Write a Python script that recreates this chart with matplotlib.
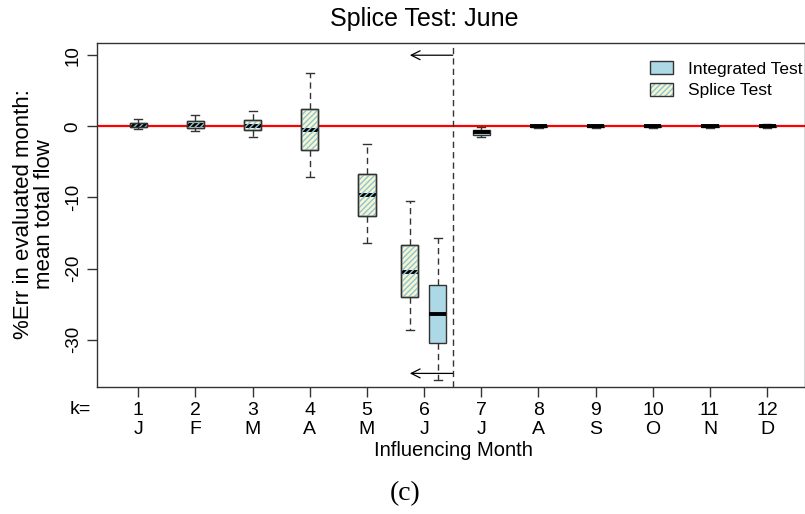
"""Splice test box plot for June, redrawn from the paper figure."""

import matplotlib

matplotlib.use("Agg")
import matplotlib.pyplot as plt
from matplotlib.legend_handler import HandlerTuple
from matplotlib.patches import Patch, PathPatch

plt.rcParams["font.family"] = ["Liberation Sans", "DejaVu Sans"]

# k = influencing month index
months = ["J", "F", "M", "A", "M", "J", "J", "A", "S", "O", "N", "D"]
k_values = list(range(1, 13))

# splice test, k = 1..6 (whisker low, q1, median, q3, whisker high)
splice_k = [1, 2, 3, 4, 5, 6]
splice_lo = [-0.38, -0.62, -1.5, -7.1, -16.4, -28.6]
splice_q1 = [-0.14, -0.24, -0.52, -3.33, -12.6, -24.0]
splice_med = [0.18, 0.22, 0.08, -0.56, -9.7, -20.5]
splice_q3 = [0.5, 0.75, 0.89, 2.48, -6.75, -16.65]
splice_hi = [0.98, 1.63, 2.19, 7.54, -2.49, -10.5]

# integrated test, k = 6..12
integ_k = [6, 7, 8, 9, 10, 11, 12]
integ_lo = [-35.7, -1.46, -0.2, -0.2, -0.2, -0.2, -0.2]
integ_q1 = [-30.5, -1.18, -0.15, -0.15, -0.15, -0.15, -0.1]
integ_med = [-26.4, -0.85, 0.0, 0.0, 0.0, 0.0, 0.05]
integ_q3 = [-22.3, -0.52, 0.15, 0.15, 0.15, 0.15, 0.2]
integ_hi = [-15.75, -0.05, 0.2, 0.2, 0.2, 0.2, 0.35]

split_month = 6.5
arrow_y = [10, -34.75]

SPLICE_FILL = "#f6f6cf"
HATCH_COLOR = "#8fc3d6"
INTEG_FILL = "#add8e6"
EDGE = "#333333"


def make_stats(lo, q1, med, q3, hi):
    return [
        {"whislo": a, "q1": b, "med": c, "q3": d, "whishi": e, "fliers": []}
        for a, b, c, d, e in zip(lo, q1, med, q3, hi)
    ]


def draw_boxes(ax, stats, positions, face):
    return ax.bxp(
        stats,
        positions=positions,
        widths=0.3,
        patch_artist=True,
        showfliers=False,
        manage_ticks=False,
        boxprops=dict(facecolor=face, edgecolor=EDGE, linewidth=1.0),
        whiskerprops=dict(color=EDGE, linewidth=1.0, linestyle=(0, (4.5, 3))),
        capprops=dict(color=EDGE, linewidth=1.0),
        capwidths=0.14,
        medianprops=dict(color="black", linewidth=2.8, solid_capstyle="butt"),
    )


fig = plt.figure(figsize=(8.05, 5.14), dpi=100)
ax = fig.add_axes([97 / 805, 1 - 386.7 / 514, 1 - 97 / 805, (386.7 - 42.7) / 514])

ax.axhline(0, color="red", linewidth=1.6, zorder=1)

# month 6 has both tests side by side
splice_pos = [k - 0.25 if k == 6 else k for k in splice_k]
integ_pos = [k + 0.24 if k == 6 else k for k in integ_k]

splice = draw_boxes(ax, make_stats(splice_lo, splice_q1, splice_med, splice_q3, splice_hi),
                    splice_pos, SPLICE_FILL)
draw_boxes(ax, make_stats(integ_lo, integ_q1, integ_med, integ_q3, integ_hi),
           integ_pos, INTEG_FILL)

# hatch over the splice boxes (also breaks up the median line)
plt.rcParams["hatch.linewidth"] = 1.0
for box in splice["boxes"]:
    ax.add_patch(PathPatch(box.get_path(), facecolor="none", edgecolor=HATCH_COLOR,
                           linewidth=0, hatch="//////", zorder=box.get_zorder() + 2))
    ax.add_patch(PathPatch(box.get_path(), facecolor="none", edgecolor=EDGE,
                           linewidth=1.0, zorder=box.get_zorder() + 3))

ax.axvline(split_month, color=EDGE, linewidth=1.0, linestyle=(0, (4.5, 3)))
for y in arrow_y:
    ax.annotate("", xy=(5.75, y), xytext=(split_month, y),
                arrowprops=dict(arrowstyle="->", color="black", linewidth=0.9,
                                mutation_scale=16, shrinkA=0, shrinkB=0))

ax.set_xlim(0.28, 12.66)
ax.set_ylim(-36.62, 11.76)
ax.set_xticks(k_values)
ax.set_xticklabels([f"{k}\n{m}" for k, m in zip(k_values, months)],
                   fontsize=14, linespacing=1.15)
ax.set_yticks([10, 0, -10, -20, -30])
ax.set_yticklabels(["10", "0", "-10", "-20", "-30"], rotation=90, va="center",
                   fontsize=13.5)
ax.tick_params(direction="out", length=7, width=1, color=EDGE, pad=4)
for side in ["left", "top", "bottom", "right"]:
    ax.spines[side].set_color(EDGE)
    ax.spines[side].set_linewidth(1.0)

fig.text(424 / 805, 1 - 19 / 514, "Splice Test: June", ha="center", va="center",
         fontsize=18)
fig.text(34 / 805, 1 - 214 / 514, "%Err in evaluated month:\nmean total flow",
         rotation=90, ha="center", va="center", fontsize=16, linespacing=1.05)
fig.text(80 / 805, 1 - 409 / 514, "k=", ha="center", va="center", fontsize=14)
fig.text(453 / 805, 1 - 450 / 514, "Influencing Month", ha="center", va="center",
         fontsize=14.5)
fig.text(405 / 805, 1 - 494 / 514, "(c)", ha="center", va="center", fontsize=20,
         family=["Liberation Serif", "DejaVu Serif"])

integ_handle = Patch(facecolor=INTEG_FILL, edgecolor=EDGE, linewidth=1.0)
splice_handle = (
    Patch(facecolor=SPLICE_FILL, edgecolor=HATCH_COLOR, hatch="//////", linewidth=0),
    Patch(facecolor="none", edgecolor=EDGE, linewidth=1.0),
)
fig.legend([integ_handle, splice_handle], ["Integrated Test", "Splice Test"],
           handler_map={tuple: HandlerTuple(ndivide=1)},
           loc="upper left", bbox_to_anchor=(650 / 805, 1 - 61 / 514),
           frameon=False, fontsize=12.5, handlelength=1.3, handleheight=0.8,
           handletextpad=0.9, labelspacing=0.35, borderpad=0, borderaxespad=0)

fig.savefig("out.png", dpi=100)
